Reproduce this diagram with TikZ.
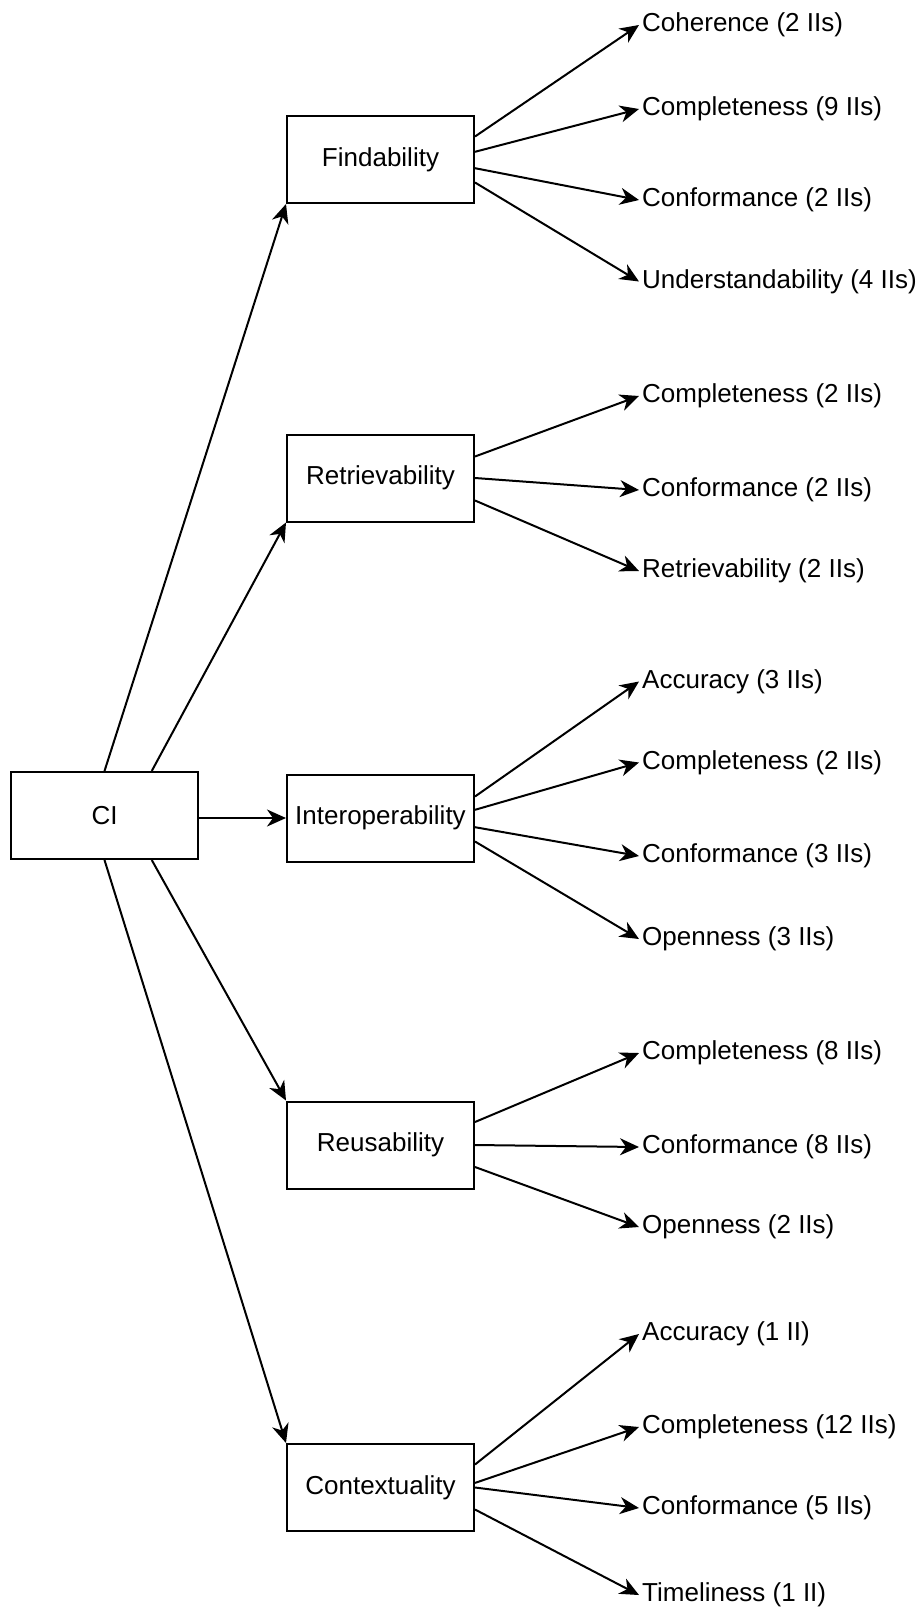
\documentclass[tikz,border=0pt]{standalone}
\usepackage{fontspec}
\setmainfont{Liberation Sans}
\usetikzlibrary{arrows.meta,calc}
\begin{document}
\begin{tikzpicture}[x=1pt,y=-1pt,
  font=\fontsize{26}{31}\selectfont,
  box/.style={draw,line width=2pt,minimum width=187pt,minimum height=87pt,inner sep=0pt},
  lab/.style={anchor=west,inner xsep=3pt,inner ysep=0pt},
  arr/.style={line width=2pt,-{Stealth[length=19pt,width=17pt,inset=6pt]}}]
\useasboundingbox (0,0) rectangle (922,1609);
% main boxes
\node[box] (CI) at (104.5,815.5) {CI};
\node[box] (F) at (380.5,159.5) {Findability};
\node[box] (R) at (380.5,478) {Retrievability};
\node[box] (I) at (380.5,818) {Interoperability};
\node[box] (Re) at (380.5,1145) {Reusability};
\node[box] (C) at (380.5,1487.5) {Contextuality};
% CI connectors
\draw[arr] (CI.north) -- (F.south west);
\draw[arr] ($(CI.north)!0.5!(CI.north east)$) -- (R.south west);
\draw[arr] (CI.east |- I.west) -- (I.west);
\draw[arr] ($(CI.south)!0.5!(CI.south east)$) -- (Re.north west);
\draw[arr] (CI.south) -- (C.north west);
% Findability
\node[lab] (f1) at (639,25) {Coherence (2 IIs)};
\node[lab] (f2) at (639,109) {Completeness (9 IIs)};
\node[lab] (f3) at (639,200) {Conformance (2 IIs)};
\node[lab] (f4) at (639,281.5) {Understandability (4 IIs)};
\draw[arr] ([yshift=23pt]F.east) -- (f1.west);
\draw[arr] ([yshift=7.7pt]F.east) -- (f2.west);
\draw[arr] ([yshift=-8.7pt]F.east) -- (f3.west);
\draw[arr] ([yshift=-23pt]F.east) -- (f4.west);
% Retrievability
\node[lab] (r1) at (639,396) {Completeness (2 IIs)};
\node[lab] (r2) at (639,490) {Conformance (2 IIs)};
\node[lab] (r3) at (639,571) {Retrievability (2 IIs)};
\draw[arr] ([yshift=21.5pt]R.east) -- (r1.west);
\draw[arr] (R.east) -- (r2.west);
\draw[arr] ([yshift=-22.5pt]R.east) -- (r3.west);
% Interoperability
\node[lab] (i1) at (639,681.5) {Accuracy (3 IIs)};
\node[lab] (i2) at (639,762.5) {Completeness (2 IIs)};
\node[lab] (i3) at (639,856) {Conformance (3 IIs)};
\node[lab] (i4) at (639,939) {Openness (3 IIs)};
\draw[arr] ([yshift=21.5pt]I.east) -- (i1.west);
\draw[arr] ([yshift=8.2pt]I.east) -- (i2.west);
\draw[arr] ([yshift=-9.2pt]I.east) -- (i3.west);
\draw[arr] ([yshift=-23.5pt]I.east) -- (i4.west);
% Reusability
\node[lab] (u1) at (639,1053) {Completeness (8 IIs)};
\node[lab] (u2) at (639,1147) {Conformance (8 IIs)};
\node[lab] (u3) at (639,1227) {Openness (2 IIs)};
\draw[arr] ([yshift=23pt]Re.east) -- (u1.west);
\draw[arr] (Re.east) -- (u2.west);
\draw[arr] ([yshift=-22pt]Re.east) -- (u3.west);
% Contextuality
\node[lab] (c1) at (639,1334) {Accuracy (1 II)};
\node[lab] (c2) at (639,1427) {Completeness (12 IIs)};
\node[lab] (c3) at (639,1508) {Conformance (5 IIs)};
\node[lab] (c4) at (639,1595) {Timeliness (1 II)};
\draw[arr] ([yshift=23pt]C.east) -- (c1.west);
\draw[arr] ([yshift=4.6pt]C.east) -- (c2.west);
\draw[arr] (C.east) -- (c3.west);
\draw[arr] ([yshift=-22pt]C.east) -- (c4.west);
\end{tikzpicture}
\end{document}
